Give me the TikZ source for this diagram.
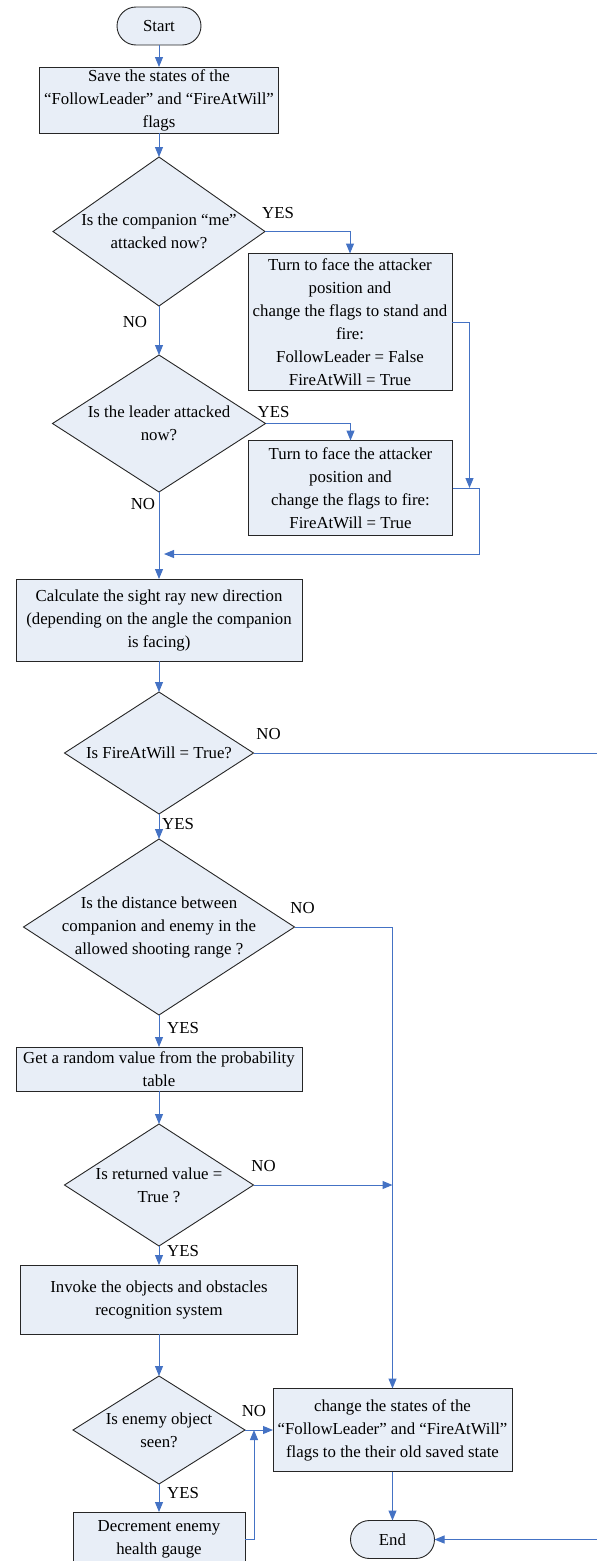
\documentclass[tikz,border=0pt]{standalone}
\usepackage{fontspec}
\setmainfont{Liberation Serif}
\usetikzlibrary{positioning, arrows.meta, shapes.geometric}

\definecolor{boxfill}{RGB}{232,238,247}
\definecolor{flowblue}{RGB}{68,114,196}

\begin{document}
\begin{tikzpicture}[
  x=1pt, y=1pt,
  every node/.style = {align=center, font=\fontsize{16.8pt}{23pt}\selectfont},
  box/.style = {draw=black!85, fill=boxfill, line width=0.9pt, inner sep=0pt, outer sep=0pt},
  term/.style = {box, rounded corners=19pt, minimum width=84pt, minimum height=38pt},
  decision/.style = {diamond, draw=black!85, fill=boxfill, line width=0.9pt, inner sep=0pt, outer sep=0pt},
  arrow/.style = {-{Triangle[length=10pt, width=8pt]}, draw=flowblue, line width=1pt},
  answer/.style = {inner sep=0pt}
]
\useasboundingbox (0,0) rectangle (597,-1561);

% --- start and the two attack checks
\node[term] (start) at (159,-26) {Start};
\node[box, below=22pt of start, minimum width=239pt, minimum height=66pt] (save) {Save the states of the \\ “FollowLeader” and “FireAtWill” \\ flags};
\node[decision, below=24pt of save, minimum width=212pt, minimum height=149pt, aspect=1.42] (meattacked) {Is the companion “me” \\ attacked now?};
\node[box, below=22pt of meattacked.east, xshift=85pt, minimum width=204pt, minimum height=137pt] (turnme) {Turn to face the attacker \\ position and \\ change the flags to stand and \\ fire: \\ FollowLeader = False \\ FireAtWill = True};
\node[decision, below=49pt of meattacked, minimum width=213pt, minimum height=137pt, aspect=1.55] (leaderattacked) {Is the leader attacked \\ now?};
\node[box, below=17pt of leaderattacked.east, xshift=85pt, minimum width=204pt, minimum height=95pt] (turnleader) {Turn to face the attacker \\ position and \\ change the flags to fire: \\ FireAtWill = True};

% --- sight ray and firing checks
\node[box, below=87pt of leaderattacked, minimum width=286pt, minimum height=82pt] (sightray) {Calculate the sight ray new direction \\ (depending on the angle the companion \\ is facing)};
\node[decision, below=31pt of sightray, minimum width=189pt, minimum height=122pt, aspect=1.55] (firecheck) {Is FireAtWill = True?};
\node[decision, below=25pt of firecheck, minimum width=271pt, minimum height=176pt, aspect=1.54, inner sep=-5pt] (rangecheck) {Is the distance between \\ companion and enemy in the \\ allowed shooting range ?};
\node[box, below=32pt of rangecheck, minimum width=286pt, minimum height=44pt] (randval) {Get a random value from the probability \\ table};
\node[decision, below=33pt of randval, minimum width=189pt, minimum height=122pt, aspect=1.55] (valcheck) {Is returned value = \\ True ?};
\node[box, below=19pt of valcheck, minimum width=277pt, minimum height=69pt] (recog) {Invoke the objects and obstacles \\ recognition system};
\node[decision, below=42pt of recog, minimum width=172pt, minimum height=108pt, aspect=1.59] (seen) {Is enemy object \\ seen?};
\node[box, below=28pt of seen, minimum width=172pt, minimum height=54pt] (decrement) {Decrement enemy \\ health gauge};

% --- restore and end
\node[box, right=28pt of seen, minimum width=239pt, minimum height=83pt] (restore) {change the states of the \\ “FollowLeader” and “FireAtWill” \\ flags to the their old saved state};
\node[term, below=49pt of restore] (stop) {End};

% --- answers
\node[answer] (yesme) at ([shift={(13,18)}]meattacked.east) {YES};
\node[answer] (nome) at ([shift={(-24,-16)}]meattacked.south) {NO};
\node[answer] (yesleader) at ([shift={(8,11)}]leaderattacked.east) {YES};
\node[answer] (noleader) at ([shift={(-16,-12)}]leaderattacked.south) {NO};
\node[answer] (nofire) at ([shift={(15,19)}]firecheck.east) {NO};
\node[answer] (yesfire) at ([shift={(19,-10)}]firecheck.south) {YES};
\node[answer] (norange) at ([shift={(8,19)}]rangecheck.east) {NO};
\node[answer] (yesrange) at ([shift={(24,-13)}]rangecheck.south) {YES};
\node[answer] (noval) at ([shift={(10,19)}]valcheck.east) {NO};
\node[answer] (yesval) at ([shift={(24,-5)}]valcheck.south) {YES};
\node[answer] (noseen) at ([shift={(9,19)}]seen.east) {NO};
\node[answer] (yesseen) at ([shift={(24,-9)}]seen.south) {YES};

% --- connectors
\coordinate (joinme) at ([xshift=17pt]turnleader.east);
\coordinate (merge) at ([xshift=5pt, yshift=-62pt]leaderattacked.south);
\coordinate (joinval) at (valcheck.east -| restore.north);
\coordinate (joinseen) at ([xshift=9pt]seen.east);

\draw[arrow] (start) -- (save);
\draw[arrow] (save) -- (meattacked);
\draw[arrow] (meattacked.east) -| (turnme.north);
\draw[arrow] (meattacked) -- (leaderattacked);
\draw[arrow] (leaderattacked.east) -| (turnleader.north);
\draw[arrow] (turnme.east) -| (joinme);
\draw[arrow] (turnleader.east) -- ++(27,0) |- (merge);
\draw[arrow] (leaderattacked) -- (sightray);
\draw[arrow] (sightray) -- (firecheck);
\draw[arrow] (firecheck) -- (rangecheck);
\draw[arrow] (firecheck.east) -- ++(352,0) |- (stop.east);
\draw[arrow] (rangecheck) -- (randval);
\draw[arrow] (rangecheck.east) -| (restore.north);
\draw[arrow] (randval) -- (valcheck);
\draw[arrow] (valcheck.east) -- (joinval);
\draw[arrow] (valcheck) -- (recog);
\draw[arrow] (recog) -- (seen);
\draw[arrow] (seen) -- (restore);
\draw[arrow] (seen) -- (decrement);
\draw[arrow] (decrement.east) -| (joinseen);
\draw[arrow] (restore) -- (stop);

\end{tikzpicture}
\end{document}
